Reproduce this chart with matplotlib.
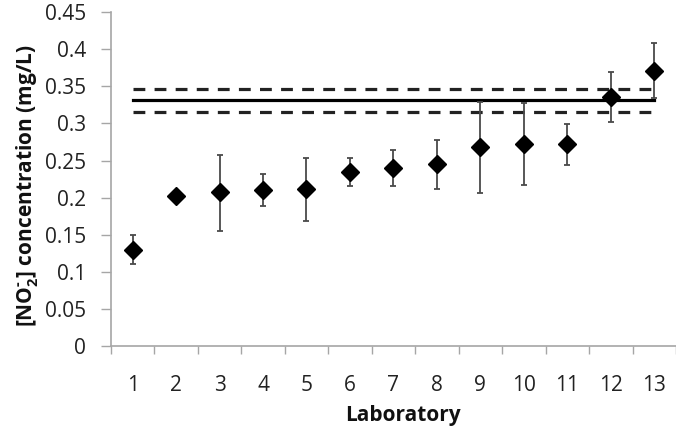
import matplotlib
matplotlib.use("Agg")
import matplotlib.pyplot as plt
import numpy as np

labs = list(range(1, 14))
values = [0.130, 0.202, 0.207, 0.210, 0.211, 0.234, 0.240, 0.245, 0.268, 0.272, 0.272, 0.336, 0.371]
err_low = [0.020, 0.0, 0.052, 0.021, 0.042, 0.019, 0.025, 0.034, 0.062, 0.055, 0.028, 0.034, 0.037]
err_high = [0.020, 0.0, 0.051, 0.022, 0.043, 0.019, 0.024, 0.033, 0.061, 0.055, 0.027, 0.033, 0.037]
ref_value = 0.331
ref_upper = 0.346
ref_lower = 0.315
yticks = [0, 0.05, 0.1, 0.15, 0.2, 0.25, 0.3, 0.35, 0.4, 0.45]
ytick_labels = ["0", "0.05", "0.1", "0.15", "0.2", "0.25", "0.3", "0.35", "0.4", "0.45"]

FONT = 'Open Sans'
plt.rcParams['font.family'] = [FONT, 'DejaVu Sans']
plt.rcParams['mathtext.fontset'] = 'custom'
plt.rcParams['mathtext.rm'] = FONT + ':bold'
plt.rcParams['mathtext.bf'] = FONT + ':bold'
plt.rcParams['mathtext.default'] = 'rm'

fig = plt.figure(figsize=(6.76, 4.32), dpi=100)
ax = fig.add_axes([0.164, 0.199, 0.836, 0.773])

ax.plot([labs[0], labs[-1]], [ref_value, ref_value], color='black', lw=2.3, zorder=2)
ax.plot([labs[0], labs[-1]], [ref_upper, ref_upper], color='#222222', lw=2.3, dashes=(3.7, 2.9), zorder=2)
ax.plot([labs[0], labs[-1]], [ref_lower, ref_lower], color='#222222', lw=2.3, dashes=(3.7, 2.9), zorder=2)

ax.errorbar(labs, values, yerr=[err_low, err_high], fmt='none', ecolor='#4a4a4a',
            elinewidth=1.3, capsize=2.2, capthick=1.3, zorder=3)
ax.plot(labs, values, linestyle='none', marker='D', markersize=9.5, color='black', zorder=4)

ax.set_xlim(0.5, 13.5)
ax.set_ylim(0, 0.45)
ax.set_yticks(yticks)
ax.set_yticklabels(ytick_labels)
ax.set_xticks(labs)
ax.set_xticklabels([str(l) for l in labs])
ax.set_xticks(np.arange(0.5, 13.6, 1.0), minor=True)

for s in ['top', 'right']:
    ax.spines[s].set_visible(False)
for s in ['left', 'bottom']:
    ax.spines[s].set_color('#a6a6a6')
    ax.spines[s].set_linewidth(1.2)

ax.tick_params(axis='x', which='major', length=0, pad=21, labelsize=15, colors='#222222')
ax.tick_params(axis='x', which='minor', length=6, width=1.0, color='#a6a6a6', direction='out')
ax.tick_params(axis='y', which='major', length=7, width=1.0, color='#a6a6a6', labelsize=15,
               labelcolor='#222222', pad=11)

ax.set_xlabel('Laboratory', fontsize=15, fontweight='bold', labelpad=6, color='#111111')
ax.xaxis.label.set_x(0.517)
ax.set_ylabel(r'[NO$_2^{\text{-}}$] concentration (mg/L)', fontsize=15, fontweight='bold',
              labelpad=3, color='#111111')
ax.yaxis.label.set_y(0.48)

fig.savefig('out.png', dpi=100)
